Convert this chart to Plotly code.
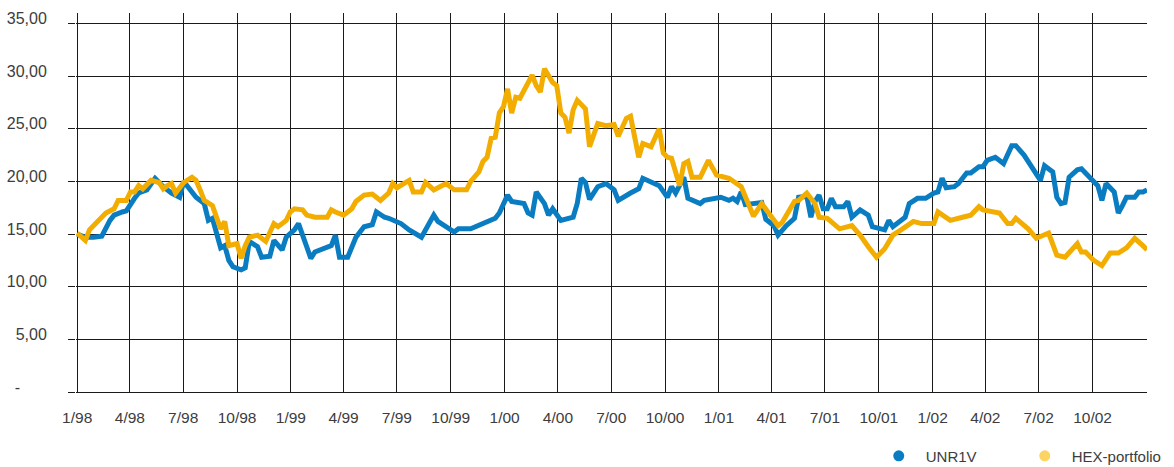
import pandas as pd
import plotly.graph_objects as go

# Weekly observation index (weeks since 1 Jan 1998) and values
unr_weeks = [0, 2, 4, 6, 8, 9, 11, 12, 14, 15, 17, 19, 21, 23, 25, 26, 27, 29, 31, 32,
             33, 35, 36, 37, 38, 40, 41, 42, 44, 45, 47, 48, 50, 51, 53, 54, 56, 57, 58, 60,
             62, 63, 64, 66, 68, 70, 72, 73, 75, 76, 79, 81, 84, 87, 88, 92, 93, 96, 98, 102,
             103, 105, 106, 109, 110, 111, 112, 113, 114, 115, 116, 118, 121, 122, 123, 124, 125, 127, 129, 131,
             132, 135, 137, 138, 142, 144, 145, 146, 148, 149, 152, 153, 157, 159, 160, 161, 162, 163, 167, 168,
             170, 171, 173, 175, 176, 178, 179, 180, 181, 182, 183, 184, 185, 187, 188, 189, 191, 193, 194, 197,
             198, 199, 201, 202, 203, 205, 207, 209, 210, 211, 212, 214, 215, 217, 218, 220, 221, 222, 224, 226,
             228, 229, 231, 232, 233, 235, 236, 238, 239, 240, 241, 242, 244, 245, 248, 249, 250, 251, 253, 254,
             255, 256, 258, 259, 260, 261]
unr_values = [15.0, 14.7, 14.7, 14.8, 16.3, 16.8, 17.1, 17.2, 18.4, 18.9, 19.2, 20.3, 19.5, 18.9, 18.5, 20.0, 19.5, 18.5, 17.9, 16.3,
              16.5, 13.7, 13.9, 12.5, 11.9, 11.6, 11.8, 14.3, 13.8, 12.8, 12.9, 14.4, 13.5, 14.7, 15.4, 16.0, 13.8, 12.7, 13.3, 13.6,
              13.9, 14.9, 12.8, 12.8, 14.7, 15.7, 15.9, 17.1, 16.6, 16.5, 16.0, 15.4, 14.7, 16.8, 16.2, 15.2, 15.5, 15.5, 15.8, 16.5,
              17.0, 18.7, 18.1, 17.9, 17.0, 16.8, 19.0, 18.5, 17.9, 16.8, 17.4, 16.3, 16.6, 17.9, 20.3, 19.9, 18.3, 19.5, 19.8, 19.2,
              18.2, 18.9, 19.3, 20.3, 19.6, 18.5, 19.5, 18.9, 20.4, 18.4, 17.9, 18.2, 18.5, 18.2, 18.4, 18.1, 19.0, 17.8, 18.0, 16.4,
              15.8, 14.9, 15.8, 16.5, 18.5, 18.6, 16.6, 18.1, 18.7, 17.4, 17.4, 18.4, 17.6, 17.6, 18.1, 16.6, 17.3, 16.8, 15.7, 15.4,
              16.3, 15.7, 16.3, 16.6, 17.9, 18.4, 18.4, 18.9, 19.0, 20.3, 19.4, 19.5, 19.8, 20.8, 20.8, 21.4, 21.4, 22.0, 22.3, 21.7,
              23.4, 23.4, 22.5, 21.9, 21.4, 20.1, 21.5, 20.9, 18.5, 17.9, 18.0, 20.4, 21.1, 21.2, 20.0, 19.6, 18.2, 19.8, 19.0, 17.0,
              17.7, 18.5, 18.5, 19.0, 19.0, 19.2]

hex_weeks = [0, 2, 3, 5, 7, 9, 10, 12, 13, 14, 15, 16, 18, 20, 21, 22, 23, 24, 26, 28,
             29, 30, 31, 33, 34, 35, 36, 37, 39, 40, 41, 42, 44, 46, 48, 49, 51, 52, 53, 55,
             56, 58, 61, 62, 63, 65, 67, 68, 70, 72, 74, 76, 77, 78, 81, 82, 84, 85, 87, 90,
             92, 95, 96, 98, 99, 100, 101, 102, 103, 104, 105, 106, 107, 108, 111, 112, 113, 114, 116, 117,
             118, 119, 120, 121, 122, 124, 125, 127, 129, 131, 132, 134, 135, 137, 138, 140, 142, 143, 144, 145,
             147, 148, 149, 150, 152, 154, 156, 159, 162, 163, 165, 167, 170, 171, 172, 175, 176, 178, 180, 181,
             183, 186, 189, 191, 193, 195, 197, 199, 201, 204, 206, 209, 210, 213, 216, 218, 220, 221, 225, 227,
             228, 229, 232, 234, 237, 239, 241, 242, 244, 245, 246, 248, 250, 252, 254, 256, 258, 260, 261]
hex_values = [15.1, 14.4, 15.4, 16.2, 17.0, 17.4, 18.2, 18.2, 19.0, 19.0, 19.6, 19.3, 20.1, 19.9, 19.3, 19.6, 19.8, 18.9, 19.9, 20.4,
              20.1, 19.2, 18.2, 17.7, 16.6, 15.5, 16.2, 13.9, 14.1, 12.7, 13.9, 14.7, 14.9, 14.3, 16.0, 15.7, 16.3, 17.1, 17.4, 17.3,
              16.8, 16.6, 16.6, 17.3, 17.1, 16.8, 17.4, 18.1, 18.7, 18.8, 18.2, 18.9, 19.8, 19.4, 20.1, 19.0, 19.0, 19.9, 19.2, 19.8,
              19.2, 19.2, 20.0, 20.9, 21.9, 22.3, 24.1, 24.2, 26.5, 27.1, 28.8, 26.5, 28.0, 27.9, 30.1, 29.1, 28.5, 30.7, 29.4, 29.1,
              26.5, 26.1, 24.6, 26.8, 27.7, 26.9, 23.3, 25.5, 25.3, 25.4, 24.3, 26.0, 26.2, 22.3, 23.6, 23.3, 25.0, 22.7, 22.3, 22.2,
              19.6, 21.7, 21.9, 20.4, 20.4, 22.0, 20.6, 20.3, 19.5, 18.5, 16.7, 17.9, 16.3, 15.8, 16.1, 18.1, 18.2, 18.9, 17.9, 16.6,
              16.5, 15.5, 15.8, 14.9, 13.8, 12.8, 13.6, 14.9, 15.4, 16.2, 16.0, 16.0, 17.1, 16.3, 16.6, 16.8, 17.6, 17.3, 17.0, 16.0,
              16.0, 16.5, 15.5, 14.6, 15.1, 13.0, 12.8, 13.2, 14.1, 13.3, 13.3, 12.5, 12.0, 13.2, 13.2, 13.7, 14.6, 13.9, 13.5]

x_tick_labels = ["1/98", "4/98", "7/98", "10/98", "1/99", "4/99", "7/99", "10/99",
                 "1/00", "4/00", "7/00", "10/00", "1/01", "4/01", "7/01", "10/01",
                 "1/02", "4/02", "7/02", "10/02", ""]
y_tick_values = [0, 5, 10, 15, 20, 25, 30, 35]
y_tick_labels = ["-" + "\u00a0" * 6, "5,00", "10,00", "15,00", "20,00", "25,00", "30,00", "35,00"]
series_names = ["UNR1V", "HEX-portfolio"]

start = pd.Timestamp("1998-01-01")
unr_dates = [start + pd.Timedelta(weeks=w) for w in unr_weeks]
hex_dates = [start + pd.Timedelta(weeks=w) for w in hex_weeks]
x_tick_vals = pd.date_range("1998-01-01", "2003-01-01", freq="QS")

BLUE = "#0a7cc1"
YELLOW = "#f2ad00"
LEGEND_YELLOW = "#fbd464"

fig = go.Figure()
fig.add_trace(go.Scatter(x=unr_dates, y=unr_values, mode="lines",
                         line=dict(color=BLUE, width=5), showlegend=False))
fig.add_trace(go.Scatter(x=hex_dates, y=hex_values, mode="lines",
                         line=dict(color=YELLOW, width=5), showlegend=False))
fig.add_trace(go.Scatter(x=[None], y=[None], mode="markers", name=series_names[0],
                         marker=dict(color=BLUE, size=11)))
fig.add_trace(go.Scatter(x=[None], y=[None], mode="markers", name=series_names[1],
                         marker=dict(color=LEGEND_YELLOW, size=11)))

fig.update_layout(
    width=1174, height=467,
    margin=dict(l=76, r=27, t=13, b=75, autoexpand=False),
    paper_bgcolor="white", plot_bgcolor="white",
    font=dict(family="Liberation Sans, Arial, sans-serif", color="#3c3c3c", size=16),
    legend=dict(orientation="h", x=0.743, xanchor="left", y=-0.169, yanchor="middle",
                font=dict(size=15, color="#3c3c3c"), itemwidth=44,
                entrywidth=87, entrywidthmode="pixels", bgcolor="rgba(0,0,0,0)"),
    xaxis=dict(
        type="date", range=["1997-12-30", "2003-01-02"], automargin=False,
        tickmode="array", tickvals=x_tick_vals, ticktext=x_tick_labels,
        showgrid=True, gridcolor="#1a1a1a", gridwidth=1,
        showline=True, linecolor="#1a1a1a", linewidth=1,
        ticks="", ticklabelstandoff=11, tickfont=dict(size=15.5),
        zeroline=False,
    ),
    yaxis=dict(
        range=[0, 36], tickmode="array", tickvals=y_tick_values, ticktext=y_tick_labels,
        automargin=False,
        showgrid=True, gridcolor="#1a1a1a", gridwidth=1,
        ticks="outside", ticklen=7, tickcolor="#1a1a1a", tickwidth=1,
        ticklabelstandoff=18, ticklabelshift=-5,
        zeroline=False, showline=False, tickfont=dict(size=16),
    ),
)

fig.write_html("out.html", config={"displayModeBar": False},
               post_script="document.body.style.margin='0px';")
